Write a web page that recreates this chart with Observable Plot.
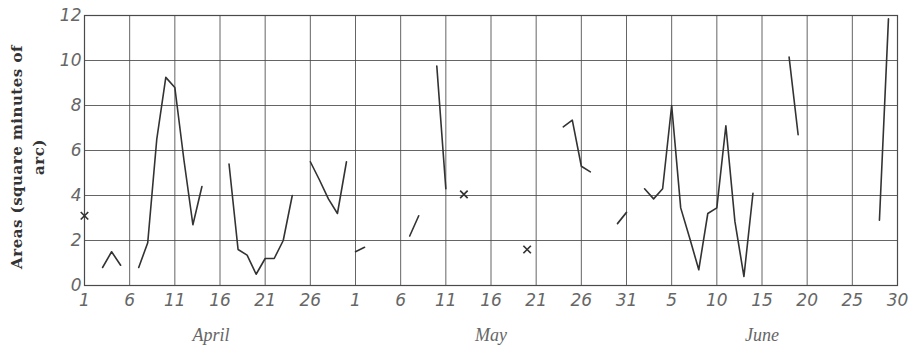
<!DOCTYPE html>
<html>
<head>
<meta charset="utf-8">
<script src="https://cdn.jsdelivr.net/npm/d3@7"></script>
<script src="https://cdn.jsdelivr.net/npm/@observablehq/plot@0.6"></script>
<style>
  html, body { margin: 0; padding: 0; background: #fff; }
  #chart svg { display: block; }
</style>
</head>
<body>
<div id="chart"></div>
<script>
// ---- data (month-day, year arbitrary non-leap) ----
const obsDate = [
  "04-03","04-04","04-05",
  "04-07","04-08","04-09","04-10","04-11","04-12","04-13","04-14",
  "04-17","04-18","04-19","04-20","04-21","04-22","04-23","04-24",
  "04-26","04-27","04-28","04-29","04-30",
  "05-01","05-02",
  "05-07","05-08",
  "05-10","05-11",
  "05-24","05-25","05-26","05-27",
  "05-30","05-31",
  "06-02","06-03","06-04","06-05","06-06","06-07","06-08","06-09","06-10","06-11","06-12","06-13","06-14",
  "06-18","06-19",
  "06-28","06-29"
];
const obsArea = [
  0.8, 1.5, 0.9,
  0.8, 1.9, 6.5, 9.25, 8.8, 5.6, 2.7, 4.4,
  5.4, 1.6, 1.35, 0.5, 1.2, 1.2, 2.0, 4.0,
  5.5, 4.7, 3.85, 3.2, 5.5,
  1.5, 1.7,
  2.2, 3.1,
  9.75, 4.3,
  7.05, 7.35, 5.3, 5.05,
  2.75, 3.25,
  4.3, 3.85, 4.3, 8.0, 3.45, 2.1, 0.7, 3.2, 3.45, 7.1, 2.85, 0.4, 4.1,
  10.15, 6.7,
  2.9, 11.85
];
const obsRun = [
  1,1,1,
  2,2,2,2,2,2,2,2,
  3,3,3,3,3,3,3,3,
  4,4,4,4,4,
  5,5,
  6,6,
  7,7,
  8,8,8,8,
  9,9,
  10,10,10,10,10,10,10,10,10,10,10,10,10,
  11,11,
  12,12
];
const crossDate = ["04-01", "05-13", "05-20"];
const crossArea = [3.1, 4.05, 1.6];

const tickDates = ["04-01","04-06","04-11","04-16","04-21","04-26",
                   "05-01","05-06","05-11","05-16","05-21","05-26","05-31",
                   "06-05","06-10","06-15","06-20","06-25","06-30"];
const yTicks = [0, 2, 4, 6, 8, 10, 12];
const monthLabel = ["April", "May", "June"];
const monthAt = ["04-15", "05-16", "06-15"];
const yLabelLines = ["Areas (square minutes of", "arc)"];

// ---- build ----
const YEAR = "1930";
const toDate = s => new Date(`${YEAR}-${s}T00:00:00Z`);

const series = obsDate.map((d, i) => ({date: toDate(d), area: obsArea[i], run: obsRun[i]}));
const crosses = crossDate.map((d, i) => ({date: toDate(d), area: crossArea[i]}));
const ticks = tickDates.map(toDate);
const months = monthLabel.map((m, i) => ({date: toDate(monthAt[i]), label: m}));

const ink = "#333";
const gridInk = "#4a4a4a";
const tickInk = "#666";

const chart = Plot.plot({
  width: 910,
  height: 346,
  marginLeft: 84,
  marginRight: 13,
  marginTop: 15,
  marginBottom: 61,
  style: {background: "#fff", overflow: "visible"},
  x: {type: "utc", domain: [toDate("04-01"), toDate("06-30")], label: null},
  y: {domain: [0, 12], label: null},
  marks: [
    Plot.gridX(ticks, {stroke: gridInk, strokeOpacity: 0.85, strokeWidth: 1}),
    Plot.gridY(yTicks, {stroke: gridInk, strokeOpacity: 0.85, strokeWidth: 1}),
    Plot.frame({stroke: gridInk, strokeWidth: 1.2}),
    Plot.axisX({
      ticks: ticks,
      tickSize: 0,
      tickPadding: 8,
      tickFormat: d => String(d.getUTCDate()),
      fontSize: 17,
      fontStyle: "italic",
      fontFamily: "DejaVu Sans",
      fill: tickInk,
      label: null
    }),
    Plot.axisY({
      ticks: yTicks,
      tickSize: 0,
      tickPadding: 3,
      fontSize: 17,
      fontStyle: "italic",
      fontFamily: "DejaVu Sans",
      fill: tickInk,
      label: null
    }),
    Plot.line(series, {x: "date", y: "area", z: "run", stroke: ink, strokeWidth: 1.6}),
    Plot.dot(crosses, {x: "date", y: "area", symbol: "times", r: 3.5, stroke: ink, strokeWidth: 1.7}),
    Plot.text(months, {
      x: "date", y: () => 0, text: "label", dy: 50,
      fontSize: 18, fontStyle: "italic", fontFamily: "Liberation Serif",
      fill: tickInk
    })
  ]
});

// rotated two-line y-axis title
const svg = d3.select(chart);
const title = svg.append("text")
  .attr("transform", "translate(22,157) rotate(-90)")
  .attr("text-anchor", "middle")
  .attr("font-family", "DejaVu Serif")
  .attr("font-weight", "bold")
  .attr("font-size", 15)
  .attr("letter-spacing", 0.5)
  .attr("fill", "#333");
yLabelLines.forEach((line, i) => {
  title.append("tspan").attr("x", 0).attr("dy", i === 0 ? "0" : "1.45em").text(line);
});

document.getElementById("chart").appendChild(chart);
</script>
</body>
</html>
